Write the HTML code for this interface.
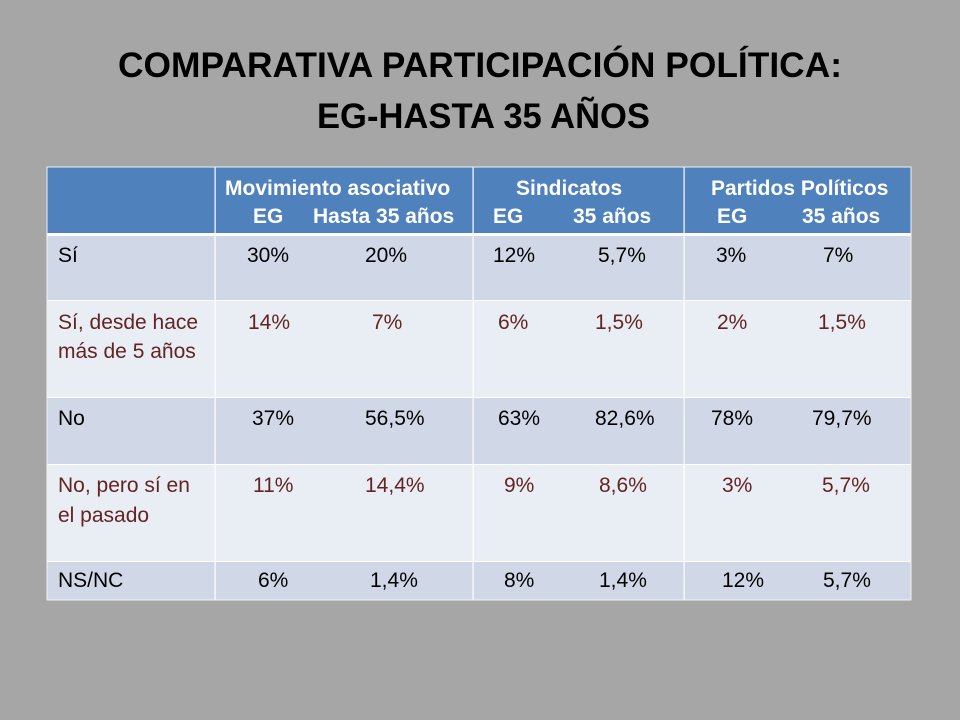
<!DOCTYPE html>
<html>
<head>
<meta charset="utf-8">
<style>
html,body{margin:0;padding:0;background:#a6a6a6;}
svg{display:block;}
text{font-family:"Liberation Sans",Arial,sans-serif;}
.t{font-size:35px;font-weight:bold;fill:#000;}
.h{font-size:21px;font-weight:bold;fill:#fff;}
.b{font-size:21px;fill:#000;}
.r{font-size:21px;fill:#632423;}
</style>
</head>
<body>
<svg width="960" height="720" viewBox="0 0 960 720" xmlns="http://www.w3.org/2000/svg">
<rect x="0" y="0" width="960" height="720" fill="#a6a6a6"/>
<text class="t" x="118" y="77" textLength="724" lengthAdjust="spacingAndGlyphs">COMPARATIVA PARTICIPACIÓN POLÍTICA:</text>
<text class="t" x="317" y="128" textLength="333" lengthAdjust="spacingAndGlyphs">EG-HASTA 35 AÑOS</text>

<!-- table background -->
<rect x="47" y="167" width="864" height="433" fill="#ffffff"/>
<rect x="47" y="167" width="864" height="66" fill="#4f81bd"/>
<rect x="47" y="236" width="864" height="64" fill="#d0d8e8"/>
<rect x="47" y="301" width="864" height="96" fill="#e9edf4"/>
<rect x="47" y="398" width="864" height="66" fill="#d0d8e8"/>
<rect x="47" y="465" width="864" height="96" fill="#e9edf4"/>
<rect x="47" y="562" width="864" height="38" fill="#d0d8e8"/>
<!-- column lines -->
<rect x="214.5" y="167" width="1.2" height="433" fill="#ffffff"/>
<rect x="472.5" y="167" width="1.2" height="433" fill="#ffffff"/>
<rect x="683.5" y="167" width="1.2" height="433" fill="#ffffff"/>
<rect x="47" y="167" width="864" height="433" fill="none" stroke="#f2f2f2" stroke-width="1"/>

<!-- header -->
<text class="h" x="225" y="195">Movimiento asociativo</text>
<text class="h" x="253" y="223">EG</text>
<text class="h" x="313" y="223">Hasta 35 años</text>
<text class="h" x="516" y="195">Sindicatos</text>
<text class="h" x="493" y="223">EG</text>
<text class="h" x="573" y="223">35 años</text>
<text class="h" x="711" y="195">Partidos Políticos</text>
<text class="h" x="717" y="223">EG</text>
<text class="h" x="802" y="223">35 años</text>

<!-- row 1 -->
<text class="b" x="58" y="262">Sí</text>
<text class="b" x="247" y="262">30%</text>
<text class="b" x="365" y="262">20%</text>
<text class="b" x="493" y="262">12%</text>
<text class="b" x="598" y="262">5,7%</text>
<text class="b" x="716" y="262">3%</text>
<text class="b" x="823" y="262">7%</text>

<!-- row 2 -->
<text class="r" x="58" y="329">Sí, desde hace</text>
<text class="r" x="58" y="358">más de 5 años</text>
<text class="r" x="248" y="329">14%</text>
<text class="r" x="372" y="329">7%</text>
<text class="r" x="498" y="329">6%</text>
<text class="r" x="595" y="329">1,5%</text>
<text class="r" x="717" y="329">2%</text>
<text class="r" x="818" y="329">1,5%</text>

<!-- row 3 -->
<text class="b" x="58" y="425">No</text>
<text class="b" x="252" y="425">37%</text>
<text class="b" x="365" y="425">56,5%</text>
<text class="b" x="498" y="425">63%</text>
<text class="b" x="595" y="425">82,6%</text>
<text class="b" x="711" y="425">78%</text>
<text class="b" x="812" y="425">79,7%</text>

<!-- row 4 -->
<text class="r" x="58" y="492">No, pero sí en</text>
<text class="r" x="58" y="522">el pasado</text>
<text class="r" x="253" y="492">11%</text>
<text class="r" x="365" y="492">14,4%</text>
<text class="r" x="504" y="492">9%</text>
<text class="r" x="599" y="492">8,6%</text>
<text class="r" x="722" y="492">3%</text>
<text class="r" x="822" y="492">5,7%</text>

<!-- row 5 -->
<text class="b" x="58" y="587">NS/NC</text>
<text class="b" x="258" y="587">6%</text>
<text class="b" x="370" y="587">1,4%</text>
<text class="b" x="504" y="587">8%</text>
<text class="b" x="599" y="587">1,4%</text>
<text class="b" x="722" y="587">12%</text>
<text class="b" x="823" y="587">5,7%</text>
</svg>
</body>
</html>
